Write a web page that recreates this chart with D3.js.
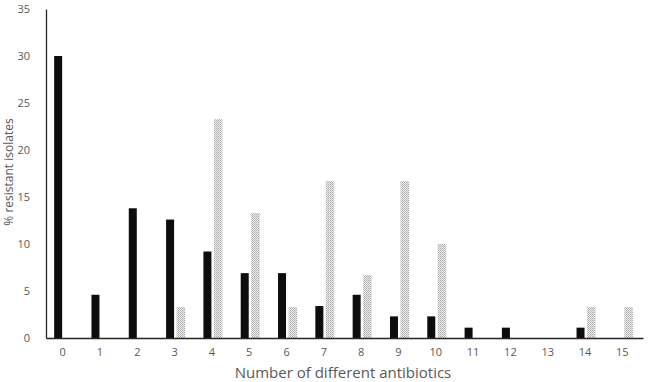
<!doctype html>
<html>
<head>
<script src="https://d3js.org/d3.v7.min.js"></script>
<style>
body { margin: 0; background: #fff; }
text { font-family: "Open Sans", "Noto Sans", sans-serif; fill: #595959; }
</style>
</head>
<body>
<svg width="649" height="382"></svg>
<script>
// number of different antibiotics
var categories = ["0","1","2","3","4","5","6","7","8","9","10","11","12","13","14","15"];
// % resistant isolates, black series
var seriesA = [30, 4.6, 13.8, 12.6, 9.2, 6.9, 6.9, 3.4, 4.6, 2.3, 2.3, 1.1, 1.1, 0, 1.1, 0];
// % resistant isolates, dotted series
var seriesB = [0, 0, 0, 3.3, 23.3, 13.3, 3.3, 16.7, 6.7, 16.7, 10, 0, 0, 0, 3.3, 3.3];
var yTicks = [0, 5, 10, 15, 20, 25, 30, 35];

var svg = d3.select("svg");
var mLeft = 46, mRight = 643, mTop = 9, mBottom = 338;

var defs = svg.append("defs");
var pat = defs.append("pattern")
    .attr("id", "dots")
    .attr("patternUnits", "userSpaceOnUse")
    .attr("width", 2).attr("height", 2);
pat.append("rect").attr("width", 2).attr("height", 2).attr("fill", "#efefef");
pat.append("rect").attr("width", 1).attr("height", 1).attr("fill", "#a8a8a8");
pat.append("rect").attr("x", 1).attr("y", 1).attr("width", 1).attr("height", 1).attr("fill", "#bdbdbd");

var x = d3.scaleBand().domain(categories).range([mLeft, mRight]);
var y = d3.scaleLinear().domain([0, 35]).range([mBottom, mTop]);

var barW = 8;

// black bars
svg.append("g").selectAll("rect")
    .data(seriesA)
    .enter().append("rect")
    .attr("x", function(d, i) { return x(categories[i]) + x.bandwidth() / 2 - 10.5; })
    .attr("y", function(d) { return y(d); })
    .attr("width", barW)
    .attr("height", function(d) { return mBottom - y(d); })
    .attr("fill", "#0d0d0d");

// dotted bars
svg.append("g").selectAll("rect")
    .data(seriesB)
    .enter().append("rect")
    .attr("x", function(d, i) { return x(categories[i]) + x.bandwidth() / 2; })
    .attr("y", function(d) { return y(d); })
    .attr("width", barW + 0.5)
    .attr("height", function(d) { return mBottom - y(d); })
    .attr("fill", "url(#dots)");

// axes
var yAxis = svg.append("g")
    .attr("transform", "translate(" + mLeft + ",0)")
    .call(d3.axisLeft(y).tickValues(yTicks).tickSize(0).tickPadding(16));
yAxis.select(".domain").attr("stroke", "#262626").attr("stroke-width", 1.3);
yAxis.selectAll("text").style("font-size", "11px").attr("fill", "#595959");

var xAxis = svg.append("g")
    .attr("transform", "translate(0," + mBottom + ")")
    .call(d3.axisBottom(x).tickSize(0).tickPadding(10));
xAxis.select(".domain").attr("stroke", "#262626").attr("stroke-width", 1.3);
xAxis.selectAll("text").style("font-size", "11px").attr("fill", "#595959")
    .attr("transform", "translate(-2,0)");

// axis titles
svg.append("text")
    .attr("x", 343)
    .attr("y", 378)
    .attr("text-anchor", "middle")
    .style("font-size", "15px")
    .text("Number of different antibiotics");

svg.append("text")
    .attr("text-anchor", "middle")
    .attr("transform", "translate(13,172)rotate(-90)")
    .style("font-size", "12px")
    .text("% resistant isolates");
</script>
</body>
</html>
